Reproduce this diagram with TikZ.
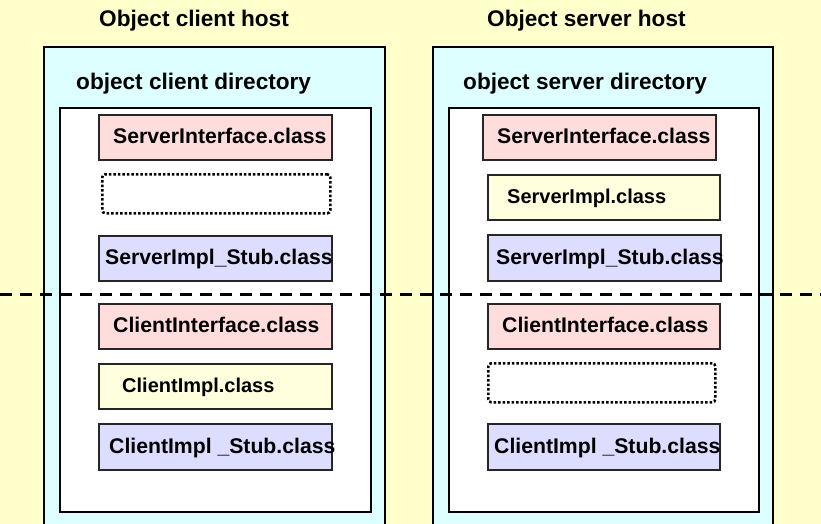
\documentclass[tikz,border=0pt]{standalone}
\usepackage{fontspec}
\setmainfont{Liberation Sans}
\definecolor{pagebg}{HTML}{FFFFCC}
\definecolor{hostfill}{HTML}{DDFFFF}
\definecolor{ifacefill}{HTML}{FFDDDD}
\definecolor{implfill}{HTML}{FFFFDD}
\definecolor{stubfill}{HTML}{DDDDFF}
\tikzset{
  hostbox/.style={draw=black, line width=2.1pt, fill=hostfill, anchor=north west, inner sep=0pt},
  dirbox/.style={draw=black, line width=2.1pt, fill=white, anchor=north west, inner sep=0pt},
  classbox/.style={draw=black!85, line width=1.9pt, anchor=north west, inner sep=0pt,
                   minimum width=#1},
  classbox/.default=233pt,
  ifacebox/.style={classbox, fill=ifacefill, minimum height=45pt},
  implbox/.style={classbox=232pt, fill=implfill, minimum height=45pt},
  stubbox/.style={classbox, fill=stubfill, minimum height=46pt},
  emptybox/.style={draw=black, line width=2.6pt, dash pattern=on 2.5pt off 2pt,
                   rounded corners=3pt, anchor=north west, inner sep=0pt},
  classlabel/.style={anchor=base west, inner sep=0pt, font=\bfseries\fontsize{21.2}{25}\selectfont},
  impllabel/.style={anchor=base west, inner sep=0pt, font=\bfseries\fontsize{20}{24}\selectfont},
  titlelabel/.style={anchor=base west, inner sep=0pt, font=\bfseries\fontsize{22.6}{27}\selectfont},
  divider/.style={line width=3pt, dash pattern=on 12pt off 8pt}
}
\begin{document}
\begin{tikzpicture}[x=1pt, y=-1pt]
\useasboundingbox (0,0) rectangle (821,524);
\clip (0,0) rectangle (821,524);
\fill[pagebg] (0,0) rectangle (821,524);

% host frames, running off the lower edge
\node[hostbox, minimum width=341pt, minimum height=494pt] (clienthost) at (43,46) {};
\node[hostbox, minimum width=340pt, minimum height=494pt] (serverhost) at (432,46) {};
\node[dirbox, minimum width=311pt, minimum height=404pt] (clientdir) at (59,107) {};
\node[dirbox, minimum width=310pt, minimum height=404pt] (serverdir) at (448,107) {};

% headings
\node[titlelabel] (clienttitle) at (99,27) {Object client host};
\node[titlelabel] (servertitle) at (487,27) {Object server host};
\node[titlelabel] (clientdirtitle) at (76,90) {object client directory};
\node[titlelabel] (serverdirtitle) at (463,90) {object server directory};

% client side class files
\node[ifacebox] (c1) at (98,114) {};
\node[emptybox, minimum width=228pt, minimum height=39pt] (c2) at (101,173) {};
\node[stubbox, minimum height=45pt] (c3) at (98,235) {};
\node[ifacebox] (c4) at (98,303) {};
\node[implbox, minimum width=233pt] (c5) at (98,363) {};
\node[stubbox] (c6) at (98,423) {};

\node[classlabel] (c1t) at (113,143.8) {ServerInterface.class};
\node[classlabel] (c3t) at (105,264.8) {ServerImpl\_Stub.class};
\node[classlabel] (c4t) at (113,332.8) {ClientInterface.class};
\node[impllabel] (c5t) at (122,392.5) {ClientImpl.class};
\node[classlabel] (c6t) at (109,453.3) {ClientImpl \_Stub.class};

% server side class files
\node[ifacebox] (s1) at (482,114) {};
\node[implbox] (s2) at (487,174) {};
\node[stubbox] (s3) at (487,234) {};
\node[classbox=232pt, fill=ifacefill, minimum height=45pt] (s4) at (487,303) {};
\node[emptybox, minimum width=227pt, minimum height=39pt] (s5) at (487,362) {};
\node[stubbox, classbox=232pt] (s6) at (487,423) {};

\node[classlabel] (s1t) at (497,143.8) {ServerInterface.class};
\node[impllabel] (s2t) at (507,203.5) {ServerImpl.class};
\node[classlabel] (s3t) at (496,264.3) {ServerImpl\_Stub.class};
\node[classlabel] (s4t) at (502,332.8) {ClientInterface.class};
\node[classlabel] (s6t) at (494,453.3) {ClientImpl \_Stub.class};

% divider between server-side and client-side files
\coordinate (divl) at (0,294);
\coordinate (divr) at (821,294);
\draw[divider] (divl) -- (divr);
\end{tikzpicture}
\end{document}
